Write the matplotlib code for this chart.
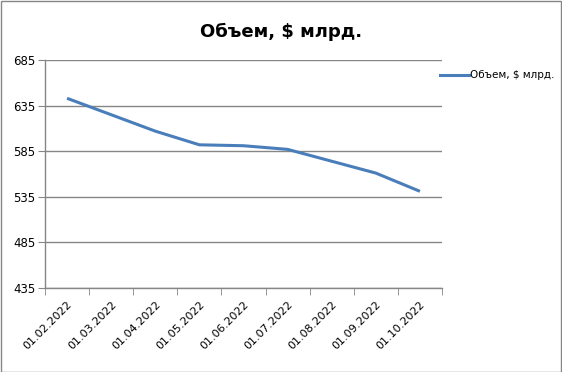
import matplotlib
matplotlib.use("Agg")
import matplotlib.pyplot as plt
from matplotlib.patches import Rectangle
from matplotlib.lines import Line2D

dates = ["01.02.2022", "01.03.2022", "01.04.2022", "01.05.2022", "01.06.2022",
         "01.07.2022", "01.08.2022", "01.09.2022", "01.10.2022"]
values = [643, 625, 607, 592, 591, 587, 574, 561, 541]
yticks = [435, 485, 535, 585, 635, 685]
series_name = "Объем, $ млрд."

plt.rcParams['font.family'] = ['DejaVu Sans']

fig = plt.figure(figsize=(5.62, 3.72), dpi=100)
ax = fig.add_axes([45/562, 1 - 288/372, (442-45)/562, (288-60)/372])

x = list(range(len(dates)))
ax.plot(x, values, color="#4a7ebb", lw=2.2, solid_capstyle="butt")

ax.set_xlim(-0.5, len(dates) - 0.5)
ax.set_ylim(435, 685)
ax.set_yticks(yticks)
ax.set_yticklabels([str(v) for v in yticks], fontsize=8.5)
ax.set_xticks(x)
ax.set_xticklabels(dates, rotation=45, ha="right", va="top", fontsize=8,
                   rotation_mode="anchor")
ax.tick_params(axis="x", length=0, pad=8)
ax.set_xticks([i - 0.5 for i in range(len(dates) + 1)], minor=True)
ax.tick_params(axis="x", which="minor", length=5, color="#868686", direction="out")
ax.tick_params(axis="y", length=5, color="#868686", pad=2)
ax.grid(axis="y", color="#868686", lw=1)
ax.set_axisbelow(True)
for s in ["top", "right"]:
    ax.spines[s].set_visible(False)
for s in ["left", "bottom"]:
    ax.spines[s].set_color("#868686")
    ax.spines[s].set_linewidth(1)

fig.text(281/562, 1 - 32/372, series_name, ha="center", va="center",
         fontsize=13, fontweight="bold")

# legend
fig.add_artist(Line2D([440/562, 469/562], [1 - 75/372, 1 - 75/372],
                      color="#4a7ebb", lw=2.2))
fig.text(470/562, 1 - 75/372, series_name, ha="left", va="center", fontsize=7.5)

fig.add_artist(Rectangle((0.001, 0.001), 0.997, 0.996, transform=fig.transFigure,
                         fill=False, edgecolor="#868686", lw=1))

fig.savefig("out.png", dpi=100)
